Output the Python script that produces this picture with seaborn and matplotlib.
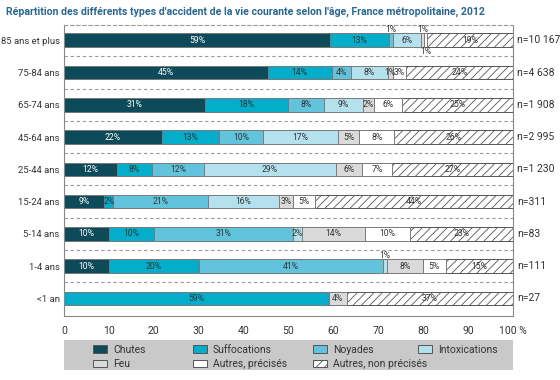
import numpy as np
import pandas as pd
import seaborn as sns
import matplotlib.pyplot as plt
from matplotlib.patches import Patch, Rectangle


ages = ['85 ans et plus', '75-84 ans', '65-74 ans', '45-64 ans', '25-44 ans',
        '15-24 ans', '5-14 ans', '1-4 ans', '<1 an']
effectifs = ['n=10 167', 'n=4 638', 'n=1 908', 'n=2 995', 'n=1 230',
             'n=311', 'n=83', 'n=111', 'n=27']

types = ['Chutes', 'Suffocations', 'Noyades', 'Intoxications',
         'Feu', 'Autres, précisés', 'Autres, non précisés']

chutes = [59.3, 45.4, 31.4, 21.8, 11.8, 9, 10, 10, 0]
suffocations = [13.0, 14.2, 18.4, 12.8, 7.8, 2, 10, 20, 59]
noyades = [1.0, 4.3, 8.2, 9.7, 11.7, 21, 31, 41, 0]
intoxications = [6.2, 8.2, 8.6, 16.8, 29.2, 16, 2, 1, 0]
feu = [0.8, 1.2, 2.4, 4.6, 5.8, 3, 14, 8, 4]
autres_precises = [0.6, 2.8, 6.4, 7.9, 6.8, 5, 10, 5, 0]
autres_non_precises = [19.1, 23.9, 24.6, 26.4, 26.9, 44, 23, 15, 37]

couleurs = ['#0d4a5a', '#04aeca', '#62c3dc', '#b5e1ef', '#dadada', '#ffffff', '#ffffff']

df = pd.DataFrame({'age': ages, 'Chutes': chutes, 'Suffocations': suffocations,
                   'Noyades': noyades, 'Intoxications': intoxications, 'Feu': feu,
                   'Autres, précisés': autres_precises,
                   'Autres, non précisés': autres_non_precises})

# small labels drawn outside the bar (-1 above, 1 below)
hors_barre = {('85 ans et plus', 'Noyades'): -1, ('85 ans et plus', 'Feu'): -1,
              ('85 ans et plus', 'Autres, précisés'): 1, ('1-4 ans', 'Intoxications'): -1}

sns.set_style('white')
plt.rcParams['font.family'] = ['Roboto', 'DejaVu Sans']
plt.rcParams['hatch.linewidth'] = 0.6

fig = plt.figure(figsize=(5.6, 3.8), dpi=100)
ax = fig.add_axes([0.114, 0.168, 0.802, 0.766])

cumul = df[types].cumsum(axis=1)
# draw cumulative layers from the last type to the first so they stack
for k in range(len(types) - 1, -1, -1):
    sns.barplot(x=cumul[types[k]], y=df['age'], order=ages, orient='h',
                color=couleurs[k], saturation=1, width=0.42,
                edgecolor='#7a7a7a' if k < 6 else '#555555', linewidth=0.7, ax=ax)
    if k == 6:
        for barre in ax.containers[-1]:
            barre.set_hatch('////')

for i, age in enumerate(ages):
    gauche = 0
    for k, t in enumerate(types):
        v = df.loc[i, t]
        if v > 0:
            pos = hors_barre.get((age, t), 0)
            va = 'center' if pos == 0 else ('bottom' if pos < 0 else 'top')
            coul = 'white' if k == 0 else '#333333'
            ax.text(gauche + v / 2, i + pos * 0.2, f'{v:.0f}%', ha='center', va=va,
                    fontsize=6.2, color=coul)
        gauche += v
    ax.text(100.9, i, effectifs[i], ha='left', va='center', fontsize=7.5, color='#333333')

for j in range(len(ages) - 1):
    ax.axhline(j + 0.5, color='#9a9a9a', lw=0.8, ls=(0, (3, 2.5)))

ax.set_xlim(0, 100)
ax.set_ylim(8.55, -0.47)
ax.set_xticks(range(0, 101, 10))
ax.set_xticklabels([str(v) for v in range(0, 100, 10)] + ['100 %'])
ax.set_xlabel('')
ax.set_ylabel('')
ax.tick_params(axis='x', length=3, color='#777777', labelsize=7.5, labelcolor='#333333', pad=4)
ax.tick_params(axis='y', length=0, labelsize=6.8, labelcolor='#333333', pad=3)
for s in ['left', 'right', 'bottom']:
    ax.spines[s].set_color('#888888')
    ax.spines[s].set_linewidth(0.8)
ax.spines['top'].set_color('#9a9a9a')
ax.spines['top'].set_linestyle((0, (3, 2.5)))
ax.spines['top'].set_linewidth(0.8)

# grey legend band under the axis
ax.add_patch(Rectangle((0, -0.186), 1, 0.104, transform=ax.transAxes,
                       facecolor='#c9c9c9', edgecolor='none', clip_on=False))

# one small legend per column, placed like the original
colonnes = [[0, 4], [1, 5], [2, 6], [3]]
x_colonnes = [0.064, 0.287, 0.555, 0.788]
for col, xc in zip(colonnes, x_colonnes):
    poignees = [Patch(facecolor=couleurs[k], edgecolor='#555555', linewidth=0.7,
                      hatch='////' if k == 6 else None) for k in col]
    leg = ax.legend(poignees, [types[k] for k in col], loc='upper left',
                    bbox_to_anchor=(xc, -0.098), fontsize=7.5, frameon=False,
                    borderpad=0, borderaxespad=0, handlelength=1.35,
                    handleheight=0.7, labelspacing=0.45, handletextpad=0.6)
    for t in leg.get_texts():
        t.set_color('#333333')
    ax.add_artist(leg)
ax.legend_ = None

fig.text(0.01, 0.968, "Répartition des différents types d'accident de la vie courante selon l'âge, France métropolitaine, 2012",
         fontsize=7.6, fontweight='bold', color='#2a6891', ha='left', va='center')

fig.savefig('out.png', dpi=100)
